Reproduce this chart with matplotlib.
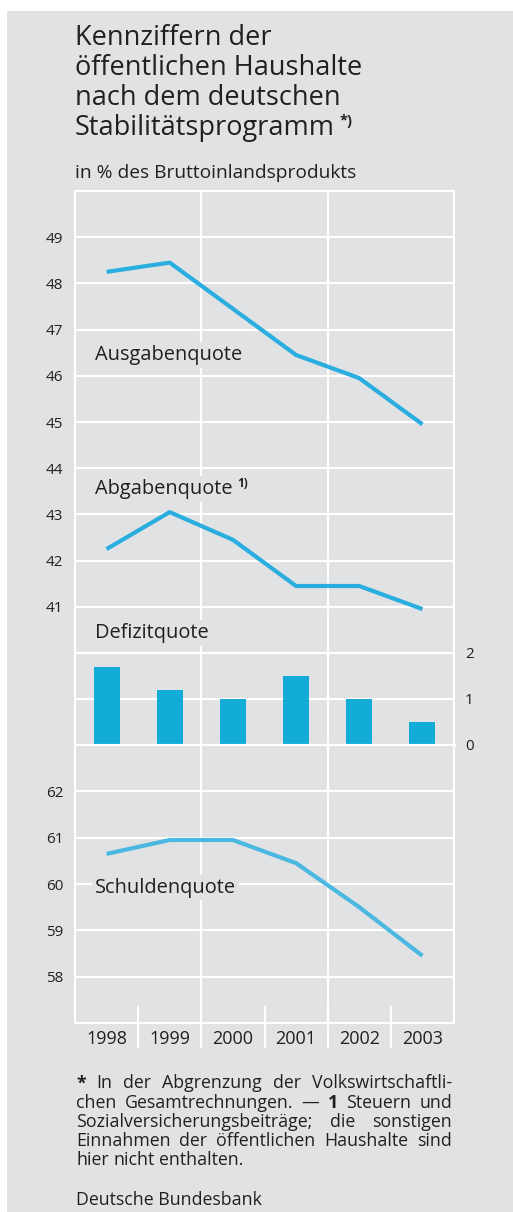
import matplotlib.pyplot as plt
from matplotlib.patches import Rectangle
import matplotlib.transforms as mtransforms

plt.rcParams['font.family'] = ['Open Sans', 'DejaVu Sans']

# data (in % of GDP)
years = [1998, 1999, 2000, 2001, 2002, 2003]
ausgabenquote = [48.25, 48.45, 47.45, 46.45, 45.95, 44.95]
abgabenquote = [42.25, 43.05, 42.45, 41.45, 41.45, 40.95]
defizitquote = [1.7, 1.2, 1.0, 1.5, 1.0, 0.5]
schuldenquote = [60.65, 60.95, 60.95, 60.45, 59.5, 58.45]

ticks_top = [41, 42, 43, 44, 45, 46, 47, 48, 49]
ticks_bar = [0, 1, 2]
ticks_bottom = [58, 59, 60, 61, 62]

W, H = 513, 1212
bg = '#e1e2e4'
txt = '#231f20'
grid_lw = 1.5

fig = plt.figure(figsize=(W / 100, H / 100), dpi=100)
fig.patch.set_facecolor('white')
fig.add_artist(Rectangle((7 / W, 0), 1, 1 - 11 / H, transform=fig.transFigure,
                         facecolor=bg, edgecolor='none', zorder=-10))


def box(top, bottom):
    return [75 / W, 1 - bottom / H, (454 - 75) / W, (bottom - top) / H]


ax1 = fig.add_axes(box(191, 653))
ax2 = fig.add_axes(box(653, 745))
ax3 = fig.add_axes(box(745, 1023))

for ax in (ax1, ax2, ax3):
    ax.set_facecolor(bg)
    ax.set_xlim(1997.5, 2003.5)
    for sp in ax.spines.values():
        sp.set_color('white')
        sp.set_linewidth(grid_lw)
    ax.tick_params(length=0, labelsize=11, colors=txt, pad=8.5)
    ax.grid(axis='y', color='white', lw=grid_lw, zorder=1)
    ax.set_axisbelow(True)
    for xb in (1999.5, 2001.5):
        ax.axvline(xb, color='white', lw=grid_lw, zorder=1)

ax1.set_ylim(40, 50)
ax1.set_yticks(ticks_top)
ax1.set_xticks([])
ax1.plot(years, ausgabenquote, color='#2aaee0', lw=3, solid_capstyle='butt', zorder=3)
ax1.plot(years, abgabenquote, color='#2aaee0', lw=3, solid_capstyle='butt', zorder=3)

ax2.set_ylim(0, 2)
ax2.set_yticks(ticks_bar)
ax2.set_xticks([])
ax2.yaxis.tick_right()
ax2.tick_params(axis='y', pad=8)
ax2.bar(years, defizitquote, width=0.41, color='#13acd9', zorder=3)
ax2.axhline(0, color='white', lw=2.2, zorder=4, clip_on=False)

ax3.set_ylim(57, 63)
ax3.set_yticks(ticks_bottom)
ax3.set_xticks(years)
ax3.set_xticklabels([str(y) for y in years], fontsize=13)
ax3.tick_params(axis='x', pad=5)
ax3.plot(years, schuldenquote, color='#4ab8e0', lw=3, solid_capstyle='butt', zorder=3)
sep = mtransforms.blended_transform_factory(ax3.transData, ax3.transAxes)
ax3.vlines([1998.5, 1999.5, 2000.5, 2001.5, 2002.5], -0.09, 0.061, transform=sep,
           color='white', lw=grid_lw, clip_on=False, zorder=1)

# title
title_lines = ['Kennziffern der', 'öffentlichen Haushalte', 'nach dem deutschen',
               'Stabilitätsprogramm']
for i, line in enumerate(title_lines):
    t = fig.text(75 / W, 1 - (45 + 30 * i) / H, line, fontsize=19.5, color=txt, va='baseline')
ax1.annotate('*)', xy=(1, 0.62), xycoords=t, xytext=(3, 0), textcoords='offset points',
             fontsize=10.5, fontweight='bold', color=txt, annotation_clip=False)

fig.text(75 / W, 1 - 178 / H, 'in % des Bruttoinlandsprodukts', fontsize=13.8,
         color=txt, va='baseline')

lbl_box = dict(facecolor=bg, edgecolor='none', pad=2)
fs_lbl = 14.4
fig.text(95 / W, 1 - 360 / H, 'Ausgabenquote', fontsize=fs_lbl, color=txt, va='baseline', bbox=lbl_box)
ab = fig.text(95 / W, 1 - 494 / H, 'Abgabenquote', fontsize=fs_lbl, color=txt, va='baseline', bbox=lbl_box)
ax1.annotate('1)', xy=(1, 0.6), xycoords=ab, xytext=(3, 0), textcoords='offset points',
             fontsize=8.5, fontweight='bold', color=txt, annotation_clip=False)
fig.text(95 / W, 1 - 638 / H, 'Defizitquote', fontsize=fs_lbl, color=txt, va='baseline', bbox=lbl_box)
fig.text(95 / W, 1 - 892.5 / H, 'Schuldenquote', fontsize=fs_lbl, color=txt, va='baseline', bbox=lbl_box)

# footnote, justified between x=76 and x=452
foot_lines = [
    (['*', 'In', 'der', 'Abgrenzung', 'der', 'Volkswirtschaftli-'], True),
    (['chen', 'Gesamtrechnungen.', '—', '1', 'Steuern', 'und'], True),
    (['Sozialversicherungsbeiträge;', 'die', 'sonstigen'], True),
    (['Einnahmen', 'der', 'öffentlichen', 'Haushalte', 'sind'], True),
    (['hier', 'nicht', 'enthalten.'], False),
]
bold_words = {'*', '1'}
fs_foot = 12.8
x0, x1 = 76, 452
rows = []
for i, (words, just) in enumerate(foot_lines):
    y = 1 - (1088.3 + 19.2 * i) / H
    row = []
    for j, w in enumerate(words):
        weight = 'bold' if (w in bold_words and i < 2) else 'normal'
        row.append(fig.text(x0 / W, y, w, fontsize=fs_foot, color=txt, va='baseline',
                            fontweight=weight))
    rows.append((row, just))
fig.text(76 / W, 1 - 1205 / H, 'Deutsche Bundesbank', fontsize=fs_foot, color=txt, va='baseline')

fig.canvas.draw()
rend = fig.canvas.get_renderer()
space = fs_foot * 100 / 72 * 0.26
for row, just in rows:
    widths = [t.get_window_extent(rend).width for t in row]
    gap = (x1 - x0 - sum(widths)) / (len(row) - 1) if just else space
    x = x0
    for t, wd in zip(row, widths):
        t.set_x(x / W)
        x += wd + gap

fig.savefig('out.png', dpi=100, facecolor='white')
